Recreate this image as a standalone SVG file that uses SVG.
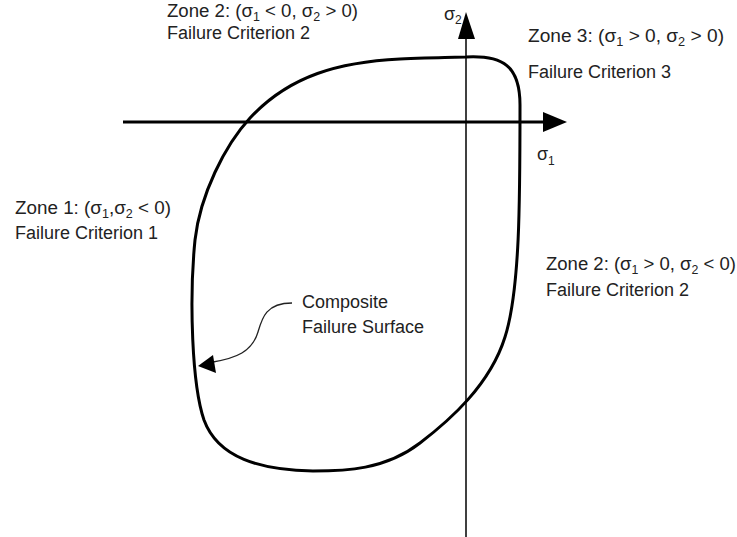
<svg xmlns="http://www.w3.org/2000/svg" width="737" height="537" viewBox="0 0 737 537">
<style>
text{font-family:"Liberation Sans",Arial,sans-serif;font-size:18px;fill:#222}
.sub{font-size:12px}
.axis{stroke:#000;fill:none}
</style>
<rect width="737" height="537" fill="#fff"/>
<g id="connectors">
<line class="axis" x1="123" y1="122" x2="546" y2="122" stroke-width="3.2"/>
<polygon points="567,122 543,112 543,132" fill="#000"/>
<line class="axis" x1="466" y1="38" x2="466" y2="537" stroke-width="1.5"/>
<polygon points="466,12 458,39 475,39" fill="#000"/>
<path d="M292,303 C266,303 262,318 258,332 C252,352 236,358 213,362" fill="none" stroke="#222" stroke-width="1.3"/>
<polygon points="198,366 213,355 216,373" fill="#000"/>
</g>
<g id="surface">
<path d="M466,57 C503,55 520,66 520,105 C520,200 520,290 505,337 C490,385 450,420 420,443 C385,470 345,471 313,471 C260,470 218,458 204,420 C192,385 189,300 195,240 C200,195 225,145 250,118 C290,75 340,62 400,59 C430,58 450,57 466,57 Z" fill="none" stroke="#000" stroke-width="3"/>
</g>
<g id="label-zone2-top">
<text x="167" y="17" textLength="191" lengthAdjust="spacingAndGlyphs">Zone 2: (σ<tspan class="sub" dy="4">1</tspan><tspan dy="-4"> &lt; 0, σ</tspan><tspan class="sub" dy="4">2</tspan><tspan dy="-4"> &gt; 0)</tspan></text>
<text x="167" y="39">Failure Criterion 2</text>
</g>
<g id="label-sigma2">
<text x="444" y="20">σ<tspan class="sub" dy="4">2</tspan></text>
</g>
<g id="label-zone3">
<text x="528" y="42" textLength="196" lengthAdjust="spacingAndGlyphs">Zone 3: (σ<tspan class="sub" dy="4">1</tspan><tspan dy="-4"> &gt; 0, σ</tspan><tspan class="sub" dy="4">2</tspan><tspan dy="-4"> &gt; 0)</tspan></text>
<text x="528" y="78">Failure Criterion 3</text>
</g>
<g id="label-sigma1">
<text x="537" y="160">σ<tspan class="sub" dy="5">1</tspan></text>
</g>
<g id="label-zone1">
<text x="15" y="214" textLength="156" lengthAdjust="spacingAndGlyphs">Zone 1: (σ<tspan class="sub" dy="4">1</tspan><tspan dy="-4">,σ</tspan><tspan class="sub" dy="4">2</tspan><tspan dy="-4"> &lt; 0)</tspan></text>
<text x="15" y="239">Failure Criterion 1</text>
</g>
<g id="label-zone2-right">
<text x="546" y="270" textLength="190" lengthAdjust="spacingAndGlyphs">Zone 2: (σ<tspan class="sub" dy="4">1</tspan><tspan dy="-4"> &gt; 0, σ</tspan><tspan class="sub" dy="4">2</tspan><tspan dy="-4"> &lt; 0)</tspan></text>
<text x="546" y="296">Failure Criterion 2</text>
</g>
<g id="label-composite">
<text x="302" y="308">Composite</text>
<text x="302" y="333">Failure Surface</text>
</g>
</svg>
